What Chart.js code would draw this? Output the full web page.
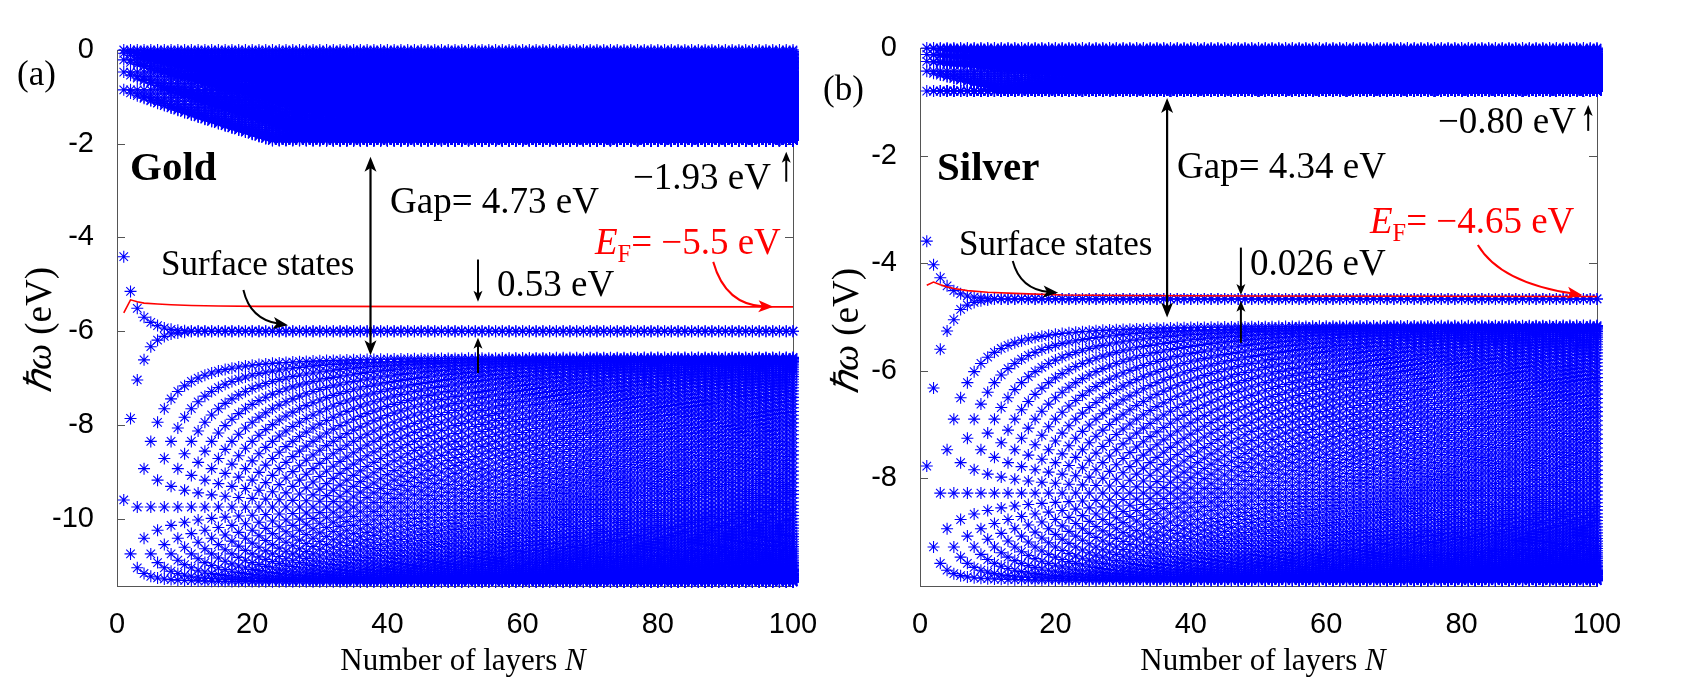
<!DOCTYPE html>
<html lang="en">
<head>
<meta charset="UTF-8">
<title>Gold and silver slab levels vs number of layers</title>
<script src="https://cdn.jsdelivr.net/npm/chart.js@4.4.1/dist/chart.umd.min.js"></script>
<style>
  body { margin: 0; background: #fff; }
  #page { position: relative; width: 1681px; height: 683px; overflow: hidden; }
  canvas { position: absolute; top: 0; }
  .t { position: absolute; white-space: nowrap; font-family: "Liberation Serif", "Times New Roman", serif; color: #000; line-height: 1; z-index: 2; }
  .red { color: #ff0000; }
  .rot { transform: translate(-50%, -50%) rotate(-90deg); }
  .mid { transform: translateX(-50%); }
  sub { font-size: 0.66em; vertical-align: -0.33em; }
</style>
</head>
<body>
<div id="page">
  <canvas id="gold" width="840" height="683" style="left:0"></canvas>
  <canvas id="silver" width="841" height="683" style="left:840px"></canvas>

  <div class="t" style="left:17px; top:56px; font-size:35px">(a)</div>
  <div class="t" style="left:130px; top:146px; font-size:41px; font-weight:bold">Gold</div>
  <div class="t" style="left:161px; top:246px; font-size:35px">Surface states</div>
  <div class="t" style="left:390px; top:182px; font-size:37px">Gap= 4.73 eV</div>
  <div class="t" style="left:633px; top:158px; font-size:37px">&minus;1.93 eV</div>
  <div class="t red" style="left:595px; top:223px; font-size:37px"><i>E</i><sub>F</sub>= &minus;5.5 eV</div>
  <div class="t" style="left:497px; top:265px; font-size:37px">0.53 eV</div>
  <div class="t rot" style="left:38px; top:330px; font-size:37px"><i>&#8463;&omega;</i> (eV)</div>
  <div class="t mid" style="left:463px; top:644px; font-size:31px">Number of layers <i>N</i></div>

  <div class="t" style="left:823px; top:71px; font-size:35px">(b)</div>
  <div class="t" style="left:937px; top:146px; font-size:41px; font-weight:bold">Silver</div>
  <div class="t" style="left:959px; top:226px; font-size:35px">Surface states</div>
  <div class="t" style="left:1177px; top:147px; font-size:37px">Gap= 4.34 eV</div>
  <div class="t" style="left:1438px; top:102px; font-size:37px">&minus;0.80 eV</div>
  <div class="t red" style="left:1370px; top:202px; font-size:37px"><i>E</i><sub>F</sub>= &minus;4.65 eV</div>
  <div class="t" style="left:1250px; top:244px; font-size:37px">0.026 eV</div>
  <div class="t rot" style="left:845px; top:331px; font-size:37px"><i>&#8463;&omega;</i> (eV)</div>
  <div class="t mid" style="left:1263px; top:644px; font-size:31px">Number of layers <i>N</i></div>
</div>

<script>
  // layer counts and axis ticks
  const layerN = Array.from({ length: 100 }, (_, i) => i + 1);
  const xTicks = [0, 20, 40, 60, 80, 100];
  const goldYTicks = [0, -2, -4, -6, -8, -10];
  const silverYTicks = [0, -2, -4, -6, -8];

  // gold: d sub-band levels at N=1, layers until each reaches the band bottom
  const goldDTops = [0, -0.07, -0.21, -0.47, -0.85];
  const goldDSpan = [90, 70, 48, 30, 22];
  const goldDBottom = -1.93;
  // sp band: E = a + b cos(t) + c cos(2t)
  const goldSp = [-9.35, 2.4, 0.4];
  const goldSurfUp = [-4.41, -5.15, -5.51, -5.70, -5.81, -5.88, -5.93, -5.96, -5.98, -5.99];
  const goldSurfDown = [-9.6, -7.86, -7.04, -6.61, -6.33, -6.19, -6.11, -6.06, -6.04, -6.02];
  const goldSurfLimit = -6.0;
  const goldFermiN = [1, 2, 3, 4, 6, 8, 11, 15, 21, 30, 50, 100];
  const goldFermiE = [-5.61, -5.33, -5.37, -5.40, -5.42, -5.435, -5.45, -5.46, -5.47, -5.47, -5.475, -5.48];

  // silver
  const silverDTops = [0, -0.12, -0.25, -0.43, -0.80];
  const silverDSpan = [100, 75, 55, 12, 1];
  const silverDBottom = -0.80;
  const silverSp = [-7.9, 2.375, 0.373];
  const silverSurfUp = [-3.59, -4.03, -4.27, -4.42, -4.51, -4.57, -4.61, -4.63, -4.645, -4.655];
  const silverSurfDown = [-7.77, -6.32, -5.60, -5.26, -5.05, -4.86, -4.78, -4.73, -4.70, -4.685];
  const silverSurfLimit = -4.665;
  const silverFermiN = [1, 2, 3, 4, 5, 7, 10, 14, 21, 30, 50, 100];
  const silverFermiE = [-4.41, -4.35, -4.40, -4.44, -4.47, -4.51, -4.54, -4.56, -4.59, -4.60, -4.61, -4.62];

  function buildStars(dTops, dSpan, dBottom, sp, surfUp, surfDown, surfLimit) {
    const pts = [];
    layerN.forEach(n => {
      dTops.forEach((top, j) => {
        const h = Math.min(1, Math.pow((n - 1) / dSpan[j], 0.9));
        const low = top + (dBottom - top) * h;
        for (let k = 0; k < n; k++) {
          const f = n > 1 ? Math.sin(Math.PI / 2 * k / (n - 1)) : 0;
          pts.push({ x: n, y: top + (low - top) * f });
        }
      });
      for (let k = 2; k <= n; k++) {
        const t = k * Math.PI / (n + 1);
        pts.push({ x: n, y: sp[0] + sp[1] * Math.cos(t) + sp[2] * Math.cos(2 * t) });
      }
      pts.push({ x: n, y: n <= surfUp.length ? surfUp[n - 1] : surfLimit });
      pts.push({ x: n, y: n <= surfDown.length ? surfDown[n - 1] : surfLimit });
    });
    return pts;
  }

  // axis box and inward ticks, under the data like matlab
  const boxPlugin = {
    id: 'box',
    beforeDatasetsDraw(chart) {
      const { ctx, chartArea: a, scales } = chart;
      ctx.save();
      ctx.strokeStyle = '#555';
      ctx.lineWidth = 1;
      ctx.strokeRect(a.left + 0.5, a.top + 0.5, a.right - a.left, a.bottom - a.top);
      ctx.beginPath();
      scales.y.ticks.forEach(t => {
        const y = Math.round(scales.y.getPixelForValue(t.value)) + 0.5;
        ctx.moveTo(a.left, y); ctx.lineTo(a.left + 8, y);
        ctx.moveTo(a.right, y); ctx.lineTo(a.right - 8, y);
      });
      scales.x.ticks.forEach(t => {
        const x = Math.round(scales.x.getPixelForValue(t.value)) + 0.5;
        ctx.moveTo(x, a.bottom); ctx.lineTo(x, a.bottom - 8);
        ctx.moveTo(x, a.top); ctx.lineTo(x, a.top + 8);
      });
      ctx.stroke();
      ctx.restore();
    }
  };

  function drawHead(ctx, from, tip, len, hw) {
    const ang = Math.atan2(tip[1] - from[1], tip[0] - from[0]);
    const c = Math.cos(ang), s = Math.sin(ang);
    ctx.beginPath();
    ctx.moveTo(tip[0], tip[1]);
    ctx.lineTo(tip[0] - len * c - hw * s, tip[1] - len * s + hw * c);
    ctx.lineTo(tip[0] - 0.75 * len * c, tip[1] - 0.75 * len * s);
    ctx.lineTo(tip[0] - len * c + hw * s, tip[1] - len * s - hw * c);
    ctx.closePath();
    ctx.fill();
  }

  // annotation arrows, given in data units
  function arrowPlugin(items) {
    return {
      id: 'arrows',
      afterDatasetsDraw(chart) {
        const { ctx, scales: { x, y } } = chart;
        const P = p => [x.getPixelForValue(p[0]), y.getPixelForValue(p[1])];
        ctx.save();
        items.forEach(a => {
          const s = P(a.from), e = P(a.to), c = a.ctrl ? P(a.ctrl) : null;
          ctx.strokeStyle = a.color;
          ctx.fillStyle = a.color;
          ctx.lineWidth = a.width;
          const back = c || s;
          const d = Math.hypot(e[0] - back[0], e[1] - back[1]);
          const cut = a.head[0] * 0.6 / d;
          const e2 = [e[0] - (e[0] - back[0]) * cut, e[1] - (e[1] - back[1]) * cut];
          let s2 = s;
          if (a.both) {
            const d2 = Math.hypot(s[0] - e[0], s[1] - e[1]);
            const cut2 = a.head[0] * 0.6 / d2;
            s2 = [s[0] + (e[0] - s[0]) * cut2, s[1] + (e[1] - s[1]) * cut2];
          }
          ctx.beginPath();
          ctx.moveTo(s2[0], s2[1]);
          if (c) ctx.quadraticCurveTo(c[0], c[1], e2[0], e2[1]);
          else ctx.lineTo(e2[0], e2[1]);
          ctx.stroke();
          drawHead(ctx, back, e, a.head[0], a.head[1]);
          if (a.both) drawHead(ctx, e, s, a.head[0], a.head[1]);
        });
        ctx.restore();
      }
    };
  }

  const goldArrows = [
    { from: [37.5, -2.28], to: [37.5, -6.51], both: true, color: '#000', width: 2.2, head: [15, 6] },
    { from: [99.0, -2.81], to: [99.0, -2.17], color: '#000', width: 2, head: [11, 4.5] },
    { from: [53.4, -4.47], to: [53.4, -5.37], color: '#000', width: 2, head: [11, 4.5] },
    { from: [53.4, -6.89], to: [53.4, -6.14], color: '#000', width: 2, head: [11, 4.5] },
    { from: [18.7, -5.12], ctrl: [19.7, -5.75], to: [25.3, -5.87], color: '#000', width: 2, head: [15, 6] },
    { from: [88.2, -4.52], ctrl: [90.0, -5.44], to: [97.1, -5.48], color: '#ff0000', width: 2, head: [15, 6] }
  ];
  const silverArrows = [
    { from: [36.5, -0.93], to: [36.5, -5.01], both: true, color: '#000', width: 2.2, head: [15, 6] },
    { from: [98.7, -1.54], to: [98.7, -1.06], color: '#000', width: 2, head: [11, 4.5] },
    { from: [47.4, -3.71], to: [47.4, -4.59], color: '#000', width: 2, head: [11, 4.5] },
    { from: [47.4, -5.48], to: [47.4, -4.70], color: '#000', width: 2, head: [11, 4.5] },
    { from: [13.7, -3.96], ctrl: [14.8, -4.49], to: [20.4, -4.55], color: '#000', width: 2, head: [15, 6] },
    { from: [82.4, -3.66], ctrl: [85.7, -4.36], to: [97.8, -4.59], color: '#ff0000', width: 2, head: [15, 6] }
  ];

  function makeChart(id, cfg) {
    const tickFont = { family: "'Liberation Sans', Arial, sans-serif", size: 29 };
    return new Chart(document.getElementById(id), {
      type: 'scatter',
      data: {
        datasets: [
          {
            data: cfg.stars, parsing: false, order: 1, clip: false,
            pointStyle: 'star', pointRadius: 6, borderWidth: 1.1,
            borderColor: '#0000ff', backgroundColor: '#0000ff'
          },
          {
            type: 'line', order: 0,
            data: cfg.fermiN.map((n, i) => ({ x: n, y: cfg.fermiE[i] })),
            borderColor: '#ff0000', borderWidth: 1.6, pointRadius: 0, tension: 0
          }
        ]
      },
      options: {
        responsive: false,
        animation: false,
        events: [],
        layout: { padding: { top: cfg.top, right: cfg.right, left: 0, bottom: 0 } },
        plugins: { legend: { display: false }, tooltip: { enabled: false } },
        scales: {
          x: {
            type: 'linear', min: 0, max: 100,
            afterBuildTicks: s => { s.ticks = xTicks.map(v => ({ value: v })); },
            afterFit: s => { s.height = 97; },
            grid: { display: false }, border: { display: false },
            ticks: { font: tickFont, color: '#000', padding: 14, maxRotation: 0 }
          },
          y: {
            type: 'linear', min: cfg.yMin, max: 0,
            afterBuildTicks: s => { s.ticks = cfg.yTicks.map(v => ({ value: v })); },
            afterFit: s => { s.width = cfg.yWidth; },
            grid: { display: false }, border: { display: false },
            ticks: { font: tickFont, color: '#000', padding: 15 }
          }
        }
      },
      plugins: [boxPlugin, arrowPlugin(cfg.arrows)]
    });
  }

  makeChart('gold', {
    stars: buildStars(goldDTops, goldDSpan, goldDBottom, goldSp, goldSurfUp, goldSurfDown, goldSurfLimit),
    fermiN: goldFermiN, fermiE: goldFermiE, yTicks: goldYTicks, yMin: -11.435,
    top: 50, right: 47, yWidth: 117, arrows: goldArrows
  });
  makeChart('silver', {
    stars: buildStars(silverDTops, silverDSpan, silverDBottom, silverSp, silverSurfUp, silverSurfDown, silverSurfLimit),
    fermiN: silverFermiN, fermiE: silverFermiE, yTicks: silverYTicks, yMin: -10,
    top: 48, right: 84, yWidth: 80, arrows: silverArrows
  });
</script>
</body>
</html>
